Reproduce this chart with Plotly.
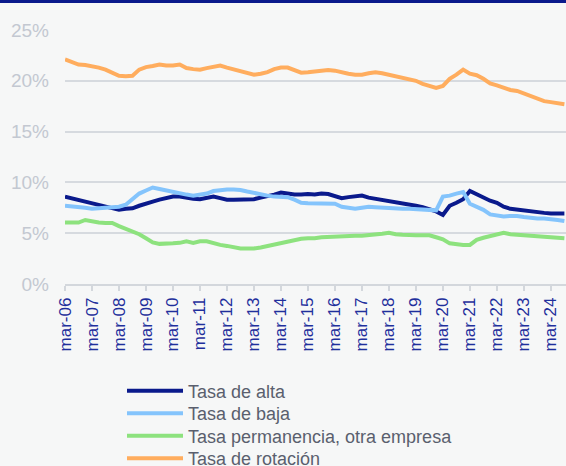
import plotly.graph_objects as go

# Quarterly observations, mar-06 ... sep-24
start_year = 2006
quarters_per_year = 4

alta = [8.6, 8.45, 8.3, 8.15, 8.0, 7.85, 7.7, 7.55, 7.3, 7.4, 7.45, 7.7,
        7.95, 8.1, 8.3, 8.5, 8.6, 8.6, 8.45, 8.4, 8.35, 8.5, 8.6, 8.45,
        8.3, 8.3, 8.3, 8.3, 8.35, 8.5, 8.6, 8.8, 9.0, 8.9, 8.8, 8.8,
        8.85, 8.8, 8.9, 8.85, 8.6, 8.45, 8.55, 8.6, 8.7, 8.5, 8.4, 8.3,
        8.2, 8.1, 8.0, 7.85, 7.7, 7.55, 7.35, 7.15, 6.8, 7.7, 8.0, 8.35,
        9.15, 8.8, 8.5, 8.2, 8.0, 7.6, 7.4, 7.3, 7.2, 7.15, 7.1, 7.0,
        6.95, 6.95, 6.95]

baja = [7.7, 7.65, 7.6, 7.5, 7.4, 7.45, 7.5, 7.5, 7.6, 7.8, 8.3, 8.9,
        9.2, 9.5, 9.35, 9.2, 9.05, 8.95, 8.8, 8.7, 8.8, 8.9, 9.15, 9.25,
        9.3, 9.3, 9.25, 9.1, 8.95, 8.8, 8.7, 8.6, 8.6, 8.55, 8.3, 8.0,
        7.95, 7.95, 7.95, 7.95, 7.9, 7.6, 7.5, 7.4, 7.5, 7.6, 7.55, 7.5,
        7.45, 7.45, 7.4, 7.4, 7.35, 7.35, 7.3, 7.25, 8.6, 8.7, 8.9, 9.05,
        7.9, 7.6, 7.3, 6.85, 6.7, 6.65, 6.7, 6.7, 6.6, 6.5, 6.45, 6.45,
        6.4, 6.3, 6.2]

permanencia = [6.05, 6.05, 6.05, 6.3, 6.15, 6.05, 6.0, 6.0, 5.7, 5.45, 5.25, 4.9,
               4.5, 4.1, 3.95, 3.95, 4.0, 4.05, 4.2, 4.05, 4.2, 4.2, 4.0, 3.85,
               3.75, 3.6, 3.5, 3.5, 3.5, 3.6, 3.75, 3.9, 4.05, 4.25, 4.35, 4.45,
               4.5, 4.5, 4.6, 4.65, 4.7, 4.7, 4.75, 4.75, 4.75, 4.8, 4.9, 4.95,
               5.05, 4.9, 4.85, 4.8, 4.8, 4.8, 4.8, 4.6, 4.4, 4.0, 3.9, 3.85,
               3.85, 4.35, 4.55, 4.7, 4.9, 5.05, 4.9, 4.85, 4.8, 4.75, 4.7, 4.65,
               4.65, 4.55, 4.5]

rotacion = [22.1, 21.8, 21.6, 21.55, 21.45, 21.3, 21.1, 20.8, 20.5, 20.45, 20.5, 21.1,
            21.35, 21.45, 21.6, 21.5, 21.5, 21.6, 21.25, 21.15, 21.1, 21.25, 21.4, 21.5,
            21.3, 21.1, 20.95, 20.75, 20.6, 20.7, 20.85, 21.15, 21.3, 21.3, 21.1, 20.8,
            20.85, 20.9, 21.0, 21.05, 21.0, 20.8, 20.7, 20.6, 20.6, 20.75, 20.85, 20.75,
            20.6, 20.45, 20.3, 20.25, 20.0, 19.7, 19.5, 19.3, 19.5, 20.2, 20.6, 21.1,
            20.7, 20.55, 20.2, 19.75, 19.55, 19.3, 19.1, 19.0, 18.75, 18.5, 18.2, 18.0,
            17.9, 17.8, 17.7]

series_names = ["Tasa de alta", "Tasa de baja",
                "Tasa permanencia, otra empresa", "Tasa de rotación"]
series_colors = ["#0a1a8c", "#84c4fc", "#8de27e", "#ffad5e"]

tick_years = list(range(2006, 2025))
tick_labels = ["mar-%02d" % (y % 100) for y in tick_years]
y_ticks = [0, 5, 10, 15, 20, 25]
y_labels = ["%d%%" % v for v in y_ticks]

x = [start_year + i / quarters_per_year for i in range(len(alta))]

W, H = 566, 466
ml, mr, mt, mb = 65, 0, 30, 182
ph = H - mt - mb
pw = W - ml - mr

legend_keys = ["legend", "legend2", "legend3", "legend4"]
legend_rows = [391, 413.5, 436, 458.5]  # row centres in pixels

fig = go.Figure()
for name, vals, col, lk in zip(series_names, [alta, baja, permanencia, rotacion],
                               series_colors, legend_keys):
    fig.add_trace(go.Scatter(x=x, y=vals, name=name, mode="lines",
                             line=dict(color=col, width=4), legend=lk))

legend_common = dict(xanchor="left", yanchor="middle",
                     font=dict(size=18, color="#5a5f6e"),
                     itemwidth=56, bgcolor="rgba(0,0,0,0)", borderwidth=0)
legend_layout = {}
for lk, row in zip(legend_keys, legend_rows):
    legend_layout[lk] = dict(x=(122 - ml) / pw, y=(284 - row) / ph, **legend_common)

fig.update_layout(
    width=W, height=H,
    margin=dict(l=ml, r=mr, t=mt, b=mb, pad=0, autoexpand=False),
    paper_bgcolor="#f6f7f7", plot_bgcolor="#f6f7f7",
    font=dict(family="Liberation Sans, Arial, sans-serif"),
    showlegend=True,
    xaxis=dict(range=[2006, 2024.56], tickvals=tick_years, ticktext=tick_labels,
               tickangle=-90, tickfont=dict(size=17, color="#1f2f9c"),
               showgrid=False, zeroline=False, showline=True, automargin=False,
               linecolor="#d3d7dc", linewidth=1.5,
               ticks="outside", ticklen=5, tickcolor="#d3d7dc", tickwidth=1.5),
    yaxis=dict(range=[0, 25], tickvals=y_ticks, ticktext=y_labels,
               tickfont=dict(size=19, color="#c3c8d1"), automargin=False,
               showgrid=True, gridcolor="#d6dadf", gridwidth=1.5,
               zeroline=False, showline=False, ticklabelstandoff=15),
    shapes=[dict(type="rect", xref="paper", yref="paper", layer="above",
                 x0=-0.2, x1=1.1, y0=1 + (mt - 3) / ph, y1=1 + mt / ph,
                 fillcolor="#0a1a8c", line=dict(width=0))],
    **legend_layout,
)

fig.write_html("out.html",
               config={"displayModeBar": False},
               post_script="document.body.style.margin='0';"
                           "document.body.style.overflow='hidden';")
